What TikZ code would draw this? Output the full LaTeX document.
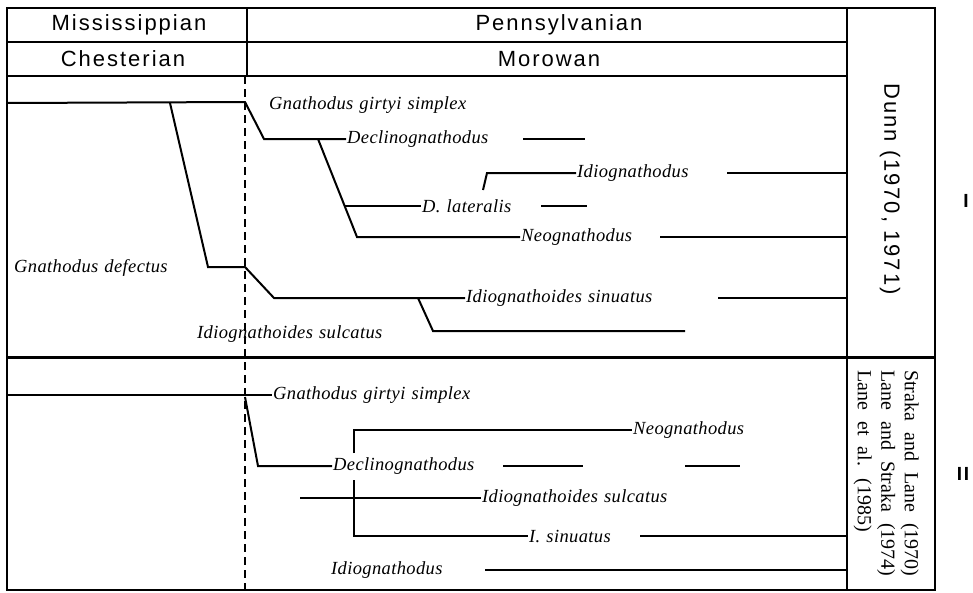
\documentclass[tikz,border=0pt]{standalone}
\usepackage{fontspec}
\setmainfont{Liberation Serif}
\newfontfamily\headfont[LetterSpace=9]{Liberation Sans}
\newfontfamily\taxface[LetterSpace=2]{Liberation Serif}
\usetikzlibrary{positioning}
\newcommand\taxfont{\taxface\fontsize{18.5}{22}\selectfont\itshape\spaceskip=0.33em\relax}
\newcommand\widesp{\spaceskip=0.55em\relax}

\begin{document}
\begin{tikzpicture}[
  x=1pt, y=-1pt,
  every node/.style={inner sep=1pt},
  taxon/.style={anchor=west, font=\taxfont},
  head/.style={font=\headfont\fontsize{22}{26}\selectfont},
  sect/.style={font=\headfont\bfseries\fontsize{19}{22}\selectfont},
  frame/.style={line width=1.6pt},
  lineage/.style={line width=2pt},
  rangebar/.style={line width=2pt}
]
\useasboundingbox (0,0) rectangle (973,592);

% frame and header
\draw[frame] (7,8) rectangle (935,590);
\draw[frame] (847,8) -- (847,590);
\draw[frame] (7,42) -- (847,42);
\draw[frame] (7,76) -- (847,76);
\draw[frame] (247,8) -- (247,76);
\draw[line width=3pt] (7,357) -- (935,357);
\draw[line width=1.3pt, dash pattern=on 8pt off 5pt] (245,76) -- (245,590);

\node[head] (miss) at (129,25) {Mississippian};
\node[head] (penn) at (559,25) {Pennsylvanian};
\node[head] (chest) at (123,59) {Chesterian};
\node[head] (morow) at (549,59) {Morowan};

\node[head, rotate=-90] (dunn) at (890,189) {Dunn (1970, 1971)};
\node[rotate=-90, align=left, anchor=north west,
      font=\fontsize{20}{23.5}\selectfont] (straka) at (920,369)
  {\widesp Straka and Lane (1970)\\\widesp Lane and Straka (1974)\\\widesp Lane et al. (1985)};

\node[sect] (secI) at (966,201) {I};
\node[sect] (secII) at (963,474) {II};

% section I
\node[taxon] (gsimpI) at (268,105) {Gnathodus girtyi simplex};
\node[taxon] (declI) at (346,139) {Declinognathodus};
\node[taxon] (idioI) at (576,173) {Idiognathodus};
\node[taxon] (dlat) at (421,206) {D. lateralis};
\node[taxon] (neoI) at (520,237) {Neognathodus};
\node[taxon] (gdef) at (13,268) {Gnathodus defectus};
\node[taxon] (isinI) at (465,298) {Idiognathoides sinuatus};
\node[taxon] (isulI) at (196,334) {Idiognathoides sulcatus};

\coordinate (topI) at (7,103);
\coordinate (bendI) at (245,102);
\coordinate (footI) at (264,139);
\draw[lineage] (topI) -- (bendI) -- (footI) -- (declI.west);
\draw[lineage] (170,103) -- (208,267) -- (245,267) -- (274,298) -- (isinI.west);
\draw[lineage] (418,298) -- (433,331) -- (685,331);
\draw[lineage] (318,139) -- (357,237) -- (neoI.west);
\draw[lineage] (345,206) -- (dlat.west);
\draw[lineage] (483,190) -- (487,173) -- (idioI.west);

\draw[rangebar] (523,139) -- (585,139);
\draw[rangebar] (541,206) -- (587,206);
\draw[rangebar] (727,173) -- (847,173);
\draw[rangebar] (660,237) -- (847,237);
\draw[rangebar] (718,298) -- (847,298);

% section II
\node[taxon] (gsimpII) at (272,395) {Gnathodus girtyi simplex};
\node[taxon] (neoII) at (632,430) {Neognathodus};
\node[taxon] (declII) at (332,466) {Declinognathodus};
\node[taxon] (isulII) at (481,498) {Idiognathoides sulcatus};
\node[taxon] (isinII) at (528,536) {I. sinuatus};
\node[taxon] (idioII) at (330,570) {Idiognathodus};

\draw[lineage] (7,395) -- (gsimpII.west);
\draw[lineage] (245,397) -- (258,466) -- (declII.west);
\draw[lineage] (354,453) -- (354,430) -- (neoII.west);
\draw[lineage] (354,480) -- (354,536) -- (isinII.west);
\draw[lineage] (300,498) -- (isulII.west);

\draw[rangebar] (503,466) -- (583,466);
\draw[rangebar] (685,466) -- (740,466);
\draw[rangebar] (640,536) -- (847,536);
\draw[rangebar] (485,570) -- (847,570);
\end{tikzpicture}
\end{document}
